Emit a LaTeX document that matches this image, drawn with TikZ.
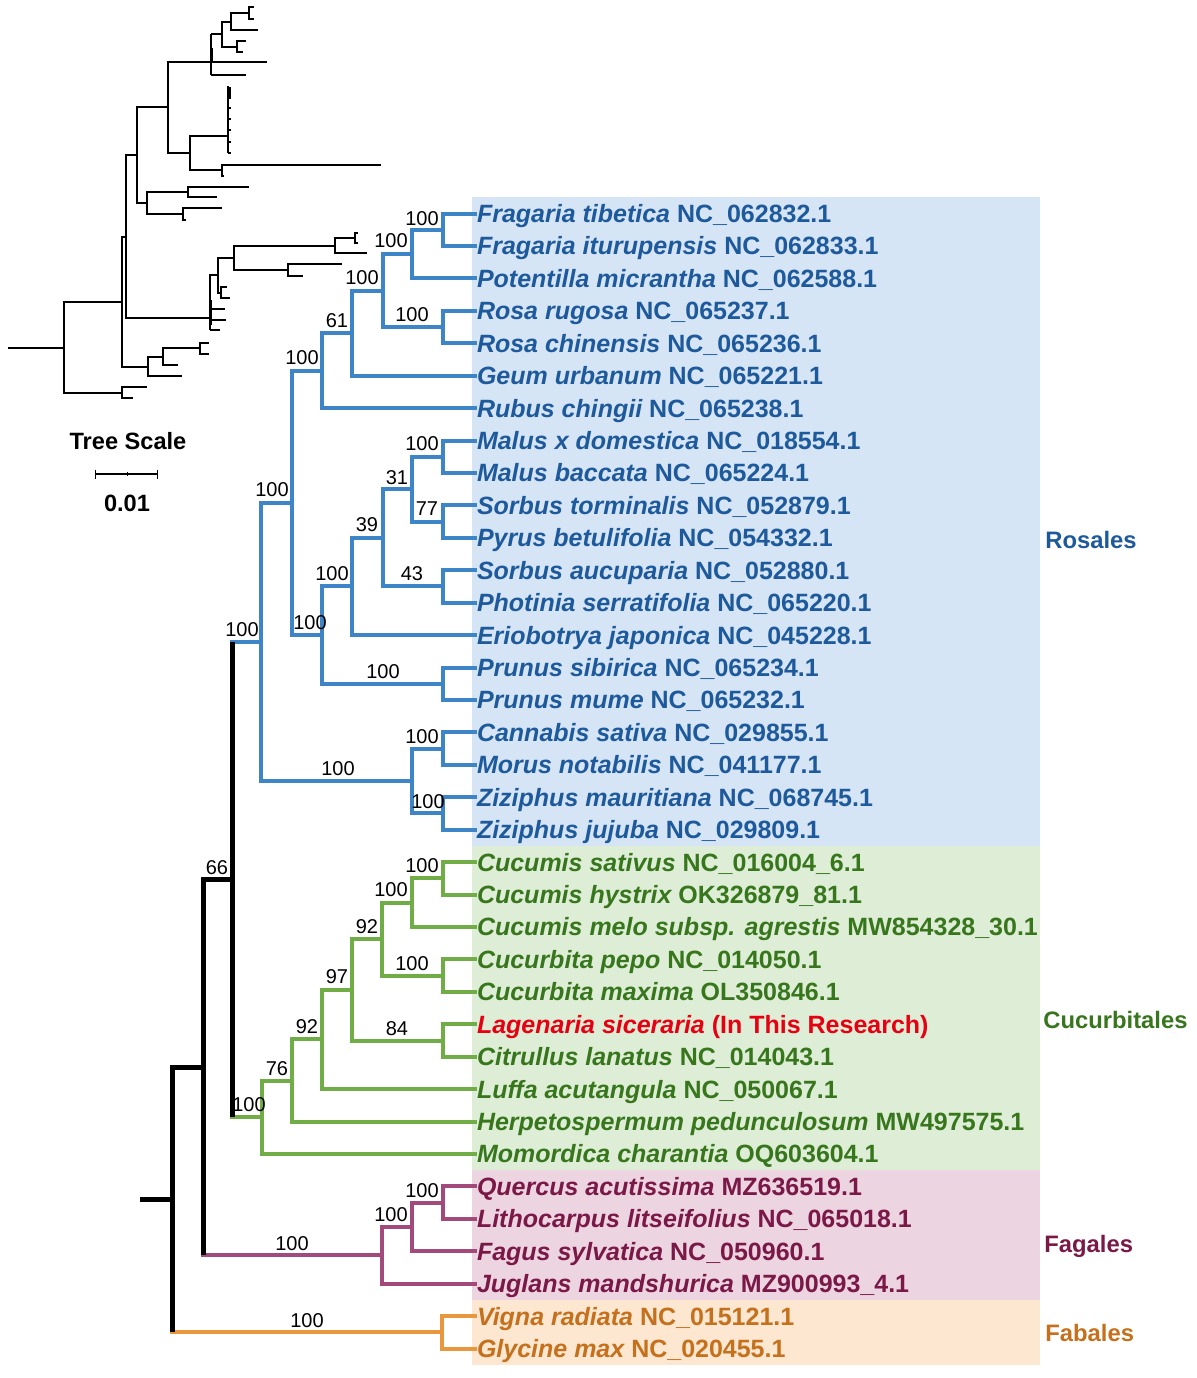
\documentclass[tikz,border=0pt]{standalone}
\usepackage{fontspec}
\setmainfont{Liberation Sans}
\definecolor{blueline}{RGB}{61,133,198}
\definecolor{bluetxt}{RGB}{30,90,155}
\definecolor{bluebg}{RGB}{213,229,245}
\definecolor{greenline}{RGB}{112,173,71}
\definecolor{greentxt}{RGB}{56,118,29}
\definecolor{greenbg}{RGB}{222,238,214}
\definecolor{maroonline}{RGB}{163,74,124}
\definecolor{maroontxt}{RGB}{122,24,72}
\definecolor{maroonbg}{RGB}{237,212,225}
\definecolor{orangeline}{RGB}{233,150,60}
\definecolor{orangetxt}{RGB}{196,112,28}
\definecolor{orangebg}{RGB}{253,231,208}
\definecolor{redtxt}{RGB}{230,0,18}
\begin{document}
\begin{tikzpicture}[x=0.5pt,y=-0.5pt,
  br/.style={line width=2pt, line cap=butt, line join=miter},
  bl/.style={br, draw=blueline},
  gr/.style={br, draw=greenline},
  mr/.style={br, draw=maroonline},
  orl/.style={br, draw=orangeline},
  bk/.style={line width=2.5pt, line cap=butt, line join=miter, draw=black},
  thinline/.style={line width=1pt, line cap=butt, line join=miter, draw=black},
  leaf/.style={anchor=west, inner sep=0pt, outer sep=0pt, font=\fontsize{12.5}{14}\selectfont\bfseries, text height=9pt, text depth=0pt},
  bs/.style={inner sep=0pt, font=\fontsize{10}{12}\selectfont},
  clade/.style={anchor=west, inner sep=0pt, font=\fontsize{11.9}{14}\selectfont\bfseries, text height=8.5pt, text depth=0pt}]
\useasboundingbox (0,0) rectangle (1196,1378);

% backgrounds
\fill[bluebg] (472,197.3) rectangle (1040,846);
\fill[greenbg] (472,846) rectangle (1040,1170.2);
\fill[maroonbg] (472,1170.2) rectangle (1040,1300);
\fill[orangebg] (472,1300) rectangle (1040,1364.8);

% leaf labels
\foreach \i/\sp/\ac/\col in {
0/Fragaria tibetica/NC\_062832.1/bluetxt,
1/Fragaria iturupensis/NC\_062833.1/bluetxt,
2/Potentilla micrantha/NC\_062588.1/bluetxt,
3/Rosa rugosa/NC\_065237.1/bluetxt,
4/Rosa chinensis/NC\_065236.1/bluetxt,
5/Geum urbanum/NC\_065221.1/bluetxt,
6/Rubus chingii/NC\_065238.1/bluetxt,
7/Malus x domestica/NC\_018554.1/bluetxt,
8/Malus baccata/NC\_065224.1/bluetxt,
9/Sorbus torminalis/NC\_052879.1/bluetxt,
10/Pyrus betulifolia/NC\_054332.1/bluetxt,
11/Sorbus aucuparia/NC\_052880.1/bluetxt,
12/Photinia serratifolia/NC\_065220.1/bluetxt,
13/Eriobotrya japonica/NC\_045228.1/bluetxt,
14/Prunus sibirica/NC\_065234.1/bluetxt,
15/Prunus mume/NC\_065232.1/bluetxt,
16/Cannabis sativa/NC\_029855.1/bluetxt,
17/Morus notabilis/NC\_041177.1/bluetxt,
18/Ziziphus mauritiana/NC\_068745.1/bluetxt,
19/Ziziphus jujuba/NC\_029809.1/bluetxt,
20/Cucumis sativus/NC\_016004\_6.1/greentxt,
21/Cucumis hystrix/OK326879\_81.1/greentxt,
22/Cucumis melo subsp. agrestis/MW854328\_30.1/greentxt,
23/Cucurbita pepo/NC\_014050.1/greentxt,
24/Cucurbita maxima/OL350846.1/greentxt,
25/Lagenaria siceraria/(In This Research)/redtxt,
26/Citrullus lanatus/NC\_014043.1/greentxt,
27/Luffa acutangula/NC\_050067.1/greentxt,
28/Herpetospermum pedunculosum/MW497575.1/greentxt,
29/Momordica charantia/OQ603604.1/greentxt,
30/Quercus acutissima/MZ636519.1/maroontxt,
31/Lithocarpus litseifolius/NC\_065018.1/maroontxt,
32/Fagus sylvatica/NC\_050960.1/maroontxt,
33/Juglans mandshurica/MZ900993\_4.1/maroontxt,
34/Vigna radiata/NC\_015121.1/orangetxt,
35/Glycine max/NC\_020455.1/orangetxt}{
  \node[leaf, text=\col] (lab\i) at (477,{213.5+32.43*\i}) {\itshape\sp\ \upshape\ac};
}

% internal nodes
\coordinate (rA) at (443,229.7);
\coordinate (rB) at (412,254.05);
\coordinate (rC) at (443,327.0);
\coordinate (rD) at (383,290.5);
\coordinate (rE) at (352,333.1);
\coordinate (rF) at (322,370.6);
\coordinate (rG) at (443,456.7);
\coordinate (rH) at (443,521.6);
\coordinate (rI) at (412,489.15);
\coordinate (rJ) at (443,586.45);
\coordinate (rK) at (383,537.8);
\coordinate (rL) at (352,586.45);
\coordinate (rM) at (443,683.7);
\coordinate (rN) at (322,635.1);
\coordinate (rO) at (292,502.85);
\coordinate (rP) at (443,748.6);
\coordinate (rQ) at (443,813.45);
\coordinate (rR) at (412,781.0);
\coordinate (rS) at (261,641.9);
\coordinate (cA) at (443,878.3);
\coordinate (cB) at (412,902.65);
\coordinate (cC) at (443,975.6);
\coordinate (cD) at (382,939.1);
\coordinate (cE) at (443,1040.5);
\coordinate (cF) at (352,989.8);
\coordinate (cG) at (322,1039.45);
\coordinate (cH) at (292,1080.5);
\coordinate (cI) at (262,1117.25);
\coordinate (fA) at (443,1202.6);
\coordinate (fB) at (412,1226.95);
\coordinate (fC) at (382,1255.3);
\coordinate (bA) at (442,1332.35);
\coordinate (k1) at (232,879.6);
\coordinate (k2) at (203,1067.45);
\coordinate (k3) at (172,1199.9);
\coordinate (k0) at (140,1199.9);

% Rosales
\draw[bl] (rA) |- (lab0.west) (rA) |- (lab1.west);
\draw[bl] (rB) |- (rA) (rB) |- (lab2.west);
\draw[bl] (rC) |- (lab3.west) (rC) |- (lab4.west);
\draw[bl] (rD) |- (rB) (rD) |- (rC);
\draw[bl] (rE) |- (rD) (rE) |- (lab5.west);
\draw[bl] (rF) |- (rE) (rF) |- (lab6.west);
\draw[bl] (rG) |- (lab7.west) (rG) |- (lab8.west);
\draw[bl] (rH) |- (lab9.west) (rH) |- (lab10.west);
\draw[bl] (rI) |- (rG) (rI) |- (rH);
\draw[bl] (rJ) |- (lab11.west) (rJ) |- (lab12.west);
\draw[bl] (rK) |- (rI) (rK) |- (rJ);
\draw[bl] (rL) |- (rK) (rL) |- (lab13.west);
\draw[bl] (rM) |- (lab14.west) (rM) |- (lab15.west);
\draw[bl] (rN) |- (rL) (rN) |- (rM);
\draw[bl] (rO) |- (rF) (rO) |- (rN);
\draw[bl] (rP) |- (lab16.west) (rP) |- (lab17.west);
\draw[bl] (rQ) |- (lab18.west) (rQ) |- (lab19.west);
\draw[bl] (rR) |- (rP) (rR) |- (rQ);
\draw[bl] (rS) |- (rO) (rS) |- (rR);
\draw[bl] (k1) |- (rS);
% Cucurbitales
\draw[gr] (cA) |- (lab20.west) (cA) |- (lab21.west);
\draw[gr] (cB) |- (cA) (cB) |- (lab22.west);
\draw[gr] (cC) |- (lab23.west) (cC) |- (lab24.west);
\draw[gr] (cD) |- (cB) (cD) |- (cC);
\draw[gr] (cE) |- (lab25.west) (cE) |- (lab26.west);
\draw[gr] (cF) |- (cD) (cF) |- (cE);
\draw[gr] (cG) |- (cF) (cG) |- (lab27.west);
\draw[gr] (cH) |- (cG) (cH) |- (lab28.west);
\draw[gr] (cI) |- (cH) (cI) |- (lab29.west);
\draw[gr] (k1) |- (cI);
% Fagales
\draw[mr] (fA) |- (lab30.west) (fA) |- (lab31.west);
\draw[mr] (fB) |- (fA) (fB) |- (lab32.west);
\draw[mr] (fC) |- (fB) (fC) |- (lab33.west);
\draw[mr] (k2) |- (fC);
% Fabales
\draw[orl] (bA) |- (lab34.west) (bA) |- (lab35.west);
\draw[orl] (k3) |- (bA);
% backbone
\draw[bk] (k1 |- rS) -- (k1 |- cI);
\draw[bk] (k2) |- (k1);
\draw[bk] (k2) -- (k2 |- fC);
\draw[bk] (k3) |- (k2);
\draw[bk] (k3) -- (k3 |- bA);
\draw[bk] (k0) -- (k3);

% bootstrap values
\foreach \x/\y/\v [count=\n] in {422/219/100, 391/241/100, 362/278/100, 412/315/100, 337/321/61,
  302/358/100, 422/444/100, 397/478/31, 272/490/100, 427/509/77, 367/525/39, 412/574/43,
  332/574/100, 310/623/100, 242/630/100, 383/672/100, 422/737/100, 338/769/100, 428/802/100,
  217/868/66, 422/866/100, 391/890/100, 367/927/92, 412/964/100, 337/977/97, 397/1029/84,
  307/1027/92, 277/1069/76, 249/1105/100, 422/1191/100, 391/1215/100, 292/1244/100, 307/1321/100}{
  \node[bs] (bs\n) at (\x,\y) {\v};
}

% clade labels
\node[clade, text=bluetxt] (cl1) at (1045,540) {Rosales};
\node[clade, text=greentxt] (cl2) at (1043,1020) {Cucurbitales};
\node[clade, text=maroontxt] (cl3) at (1044,1244) {Fagales};
\node[clade, text=orangetxt] (cl4) at (1045,1333) {Fabales};

% tree scale
\node[inner sep=0pt, font=\fontsize{11.8}{14}\selectfont\bfseries] (ts) at (128,441) {Tree Scale};
\draw[line width=1.3pt] (95,474) -- (158,474);
\draw[line width=0.5pt] (95.5,469.5) -- (95.5,478.5) (157.5,469.5) -- (157.5,478.5) (127,472) -- (127,476);
\node[inner sep=0pt, font=\fontsize{11.8}{14}\selectfont\bfseries] (sc) at (127,503) {0.01};

% overview tree (inset)
\begin{scope}[thinline]
\draw (8,347.5) -- (64,347.5);
\draw (64,347.5) |- (121.7,302) (64,347.5) |- (121.7,392.5);
\draw (121.7,392.5) |- (146.7,387) (121.7,392.5) |- (133,398);
\draw (121.7,302) |- (125.7,236.7) (121.7,302) |- (148.3,366.7);
\draw (148.3,366.7) |- (162.7,356.7) (148.3,366.7) |- (181.7,376);
\draw (162.7,356.7) |- (200,348.3) (162.7,356.7) |- (178.3,365);
\draw (200,348.3) |- (209.3,342.7) (200,348.3) |- (209.3,354);
\draw (125.7,236.7) |- (136.7,155) (125.7,236.7) |- (210,318.3);
\draw (136.7,155) |- (167.7,107) (136.7,155) |- (146.7,203);
\draw (146.7,203) |- (188.3,192) (146.7,203) |- (182.7,214);
\draw (188.3,192) |- (249,186.7) (188.3,192) |- (216.7,197.3);
\draw (182.7,214) |- (222.3,208.3) (182.7,214) |- (185.5,220);
\draw (167.7,107) |- (211,62) (167.7,107) |- (190,153);
\draw (190,153) |- (228,136) (190,153) |- (221.7,170);
\draw (221.7,170) |- (381,164.5) (221.7,170) |- (223.5,176);
\draw (228,86) -- (228,153.3);
\draw[line width=1.4pt] (229.3,87) -- (229.3,99);
\draw (228,97) -- (230.5,97) (228,108) -- (230.5,108) (228,119) -- (230.5,119) (228,130) -- (230.5,130) (228,142) -- (230.5,142) (228,153) -- (230.5,153);
\draw (211,33.7) -- (211,75) (211,62) -- (266.7,62) (211,75) -- (246,75);
\draw[line width=1.4pt] (211.5,48) -- (211.5,61);
\draw (211,33.7) -- (221.7,33.7);
\draw (221.7,33.7) |- (231,21.5) (221.7,33.7) |- (236.7,46.7);
\draw (231,21.5) |- (249.3,13) (231,21.5) |- (257.7,30);
\draw (249.3,13) |- (254.3,6.7) (249.3,13) |- (254.3,19);
\draw (236.7,46.7) |- (246,41) (236.7,46.7) |- (243.3,52.3);
\draw (210,291.7) -- (210,330);
\draw[line width=1.4pt] (210.5,300) -- (210.5,325);
\draw (210,309.3) -- (225,309.3) (210,320) -- (225.7,320) (210,330) -- (220,330);
\draw (210,291.7) |- (217.7,275);
\draw (217.7,275) |- (234,257.5) (217.7,275) |- (221,292.5);
\draw (221,292.5) |- (227,286.7) (221,292.5) |- (230,298.3);
\draw (234,257.5) |- (335,245.8) (234,257.5) |- (287.7,270);
\draw (335,245.8) |- (355,238.3) (335,245.8) |- (366.7,253.3);
\draw (355,238.3) |- (357.5,233.3) (355,238.3) |- (357.5,243.3);
\draw (287.7,270) |- (341.7,264) (287.7,270) |- (303.3,276);
\end{scope}
\end{tikzpicture}
\end{document}
